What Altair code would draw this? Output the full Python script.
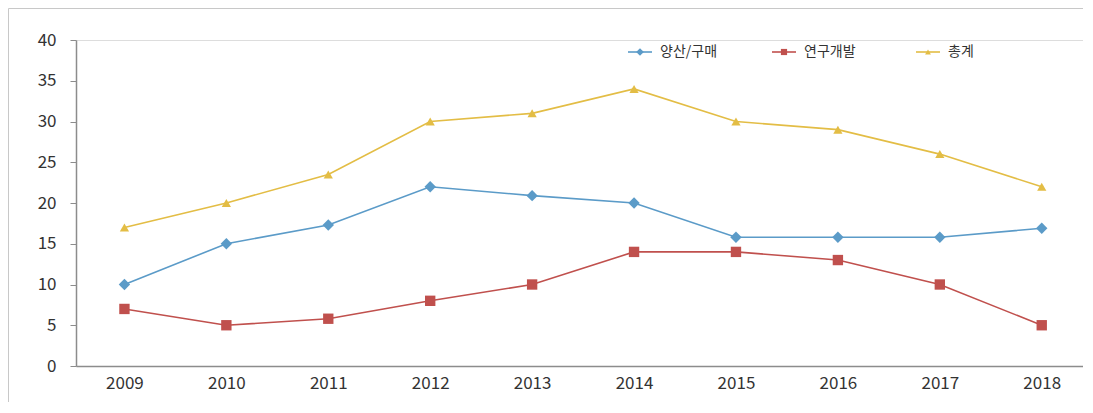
import altair as alt
import pandas as pd

years = ["2009", "2010", "2011", "2012", "2013", "2014", "2015", "2016", "2017", "2018"]
series_names = ["양산/구매", "연구개발", "총계"]
mass = [10, 15, 17.3, 22, 20.9, 20, 15.8, 15.8, 15.8, 16.9]
rnd = [7, 5, 5.8, 8, 10, 14, 14, 13, 10, 5]
total = [17, 20, 23.5, 30, 31, 34, 30, 29, 26, 22]
colors = ["#5b9bc8", "#c0504d", "#e3bd45"]
shapes = ["diamond", "square", "triangle-up"]
sizes = [130, 85, 75]

rows = []
for name, vals in zip(series_names, [mass, rnd, total]):
    for y, v in zip(years, vals):
        rows.append({"year": y, "value": v, "series": name})
df = pd.DataFrame(rows)

FONT = "Noto Sans CJK KR"
W, H = 1007, 326

x = alt.X("year:O", sort=years,
          scale=alt.Scale(type="point", padding=0.44, align=0.54),
          axis=alt.Axis(title=None, labelAngle=0, ticks=False, domainColor="#8c8c8c",
                        domainWidth=1.5, labelFont=FONT, labelFontSize=17,
                        labelColor="#333333", labelPadding=9, grid=False))
y = alt.Y("value:Q", scale=alt.Scale(domain=[0, 40], nice=False),
          axis=alt.Axis(title=None, values=list(range(0, 41, 5)), tickSize=6,
                        tickColor="#8c8c8c", domainColor="#8c8c8c", domainWidth=1.5,
                        labelFont=FONT, labelFontSize=17, labelColor="#333333",
                        labelPadding=14, grid=False))

color = alt.Color("series:N", scale=alt.Scale(domain=series_names, range=colors), legend=None)
shape = alt.Shape("series:N", scale=alt.Scale(domain=series_names, range=shapes), legend=None)
size = alt.Size("series:N", scale=alt.Scale(domain=series_names, range=sizes), legend=None)

base = alt.Chart(df)
lines = base.mark_line(strokeWidth=1.6).encode(x=x, y=y, color=color, detail="series:N")
points = base.mark_point(filled=True, opacity=1).encode(x=x, y=y, color=color, shape=shape, size=size)

layers = [lines, points]

# legend (top right, inside plot)
leg_start = 552
leg_step = 144
leg_y = 12
for i, name in enumerate(series_names):
    x0 = leg_start + i * leg_step
    ld = alt.Chart(pd.DataFrame({"series": [name]}))
    layers.append(ld.mark_rule(color=colors[i], strokeWidth=1.6).encode(
        x=alt.value(x0), x2=alt.value(x0 + 24), y=alt.value(leg_y)))
    layers.append(ld.mark_point(filled=True, opacity=1, shape=shapes[i], size=sizes[i] * 0.45,
                                color=colors[i]).encode(x=alt.value(x0 + 12), y=alt.value(leg_y)))
    layers.append(ld.mark_text(align="left", baseline="middle", font=FONT, fontSize=14,
                               color="#333333").encode(x=alt.value(x0 + 32), y=alt.value(leg_y),
                                                       text="series:N"))

# outer frame
fd = alt.Chart(pd.DataFrame({"a": [0]}))
layers.append(fd.mark_rule(color="#c8c8c8", strokeWidth=1).encode(
    x=alt.value(-67.5), x2=alt.value(W), y=alt.value(-31.5)))
layers.append(fd.mark_rule(color="#c8c8c8", strokeWidth=1).encode(
    x=alt.value(-67.5), y=alt.value(-31.5), y2=alt.value(H + 36)))

chart = alt.layer(*layers).properties(
    width=W, height=H,
    padding={"left": 68, "top": 32, "right": 0, "bottom": 38},
    autosize=alt.AutoSizeParams(type="none"),
).configure_view(stroke=None).configure(background="transparent")

chart.save("out.html", embed_options={"renderer": "svg", "actions": False})
